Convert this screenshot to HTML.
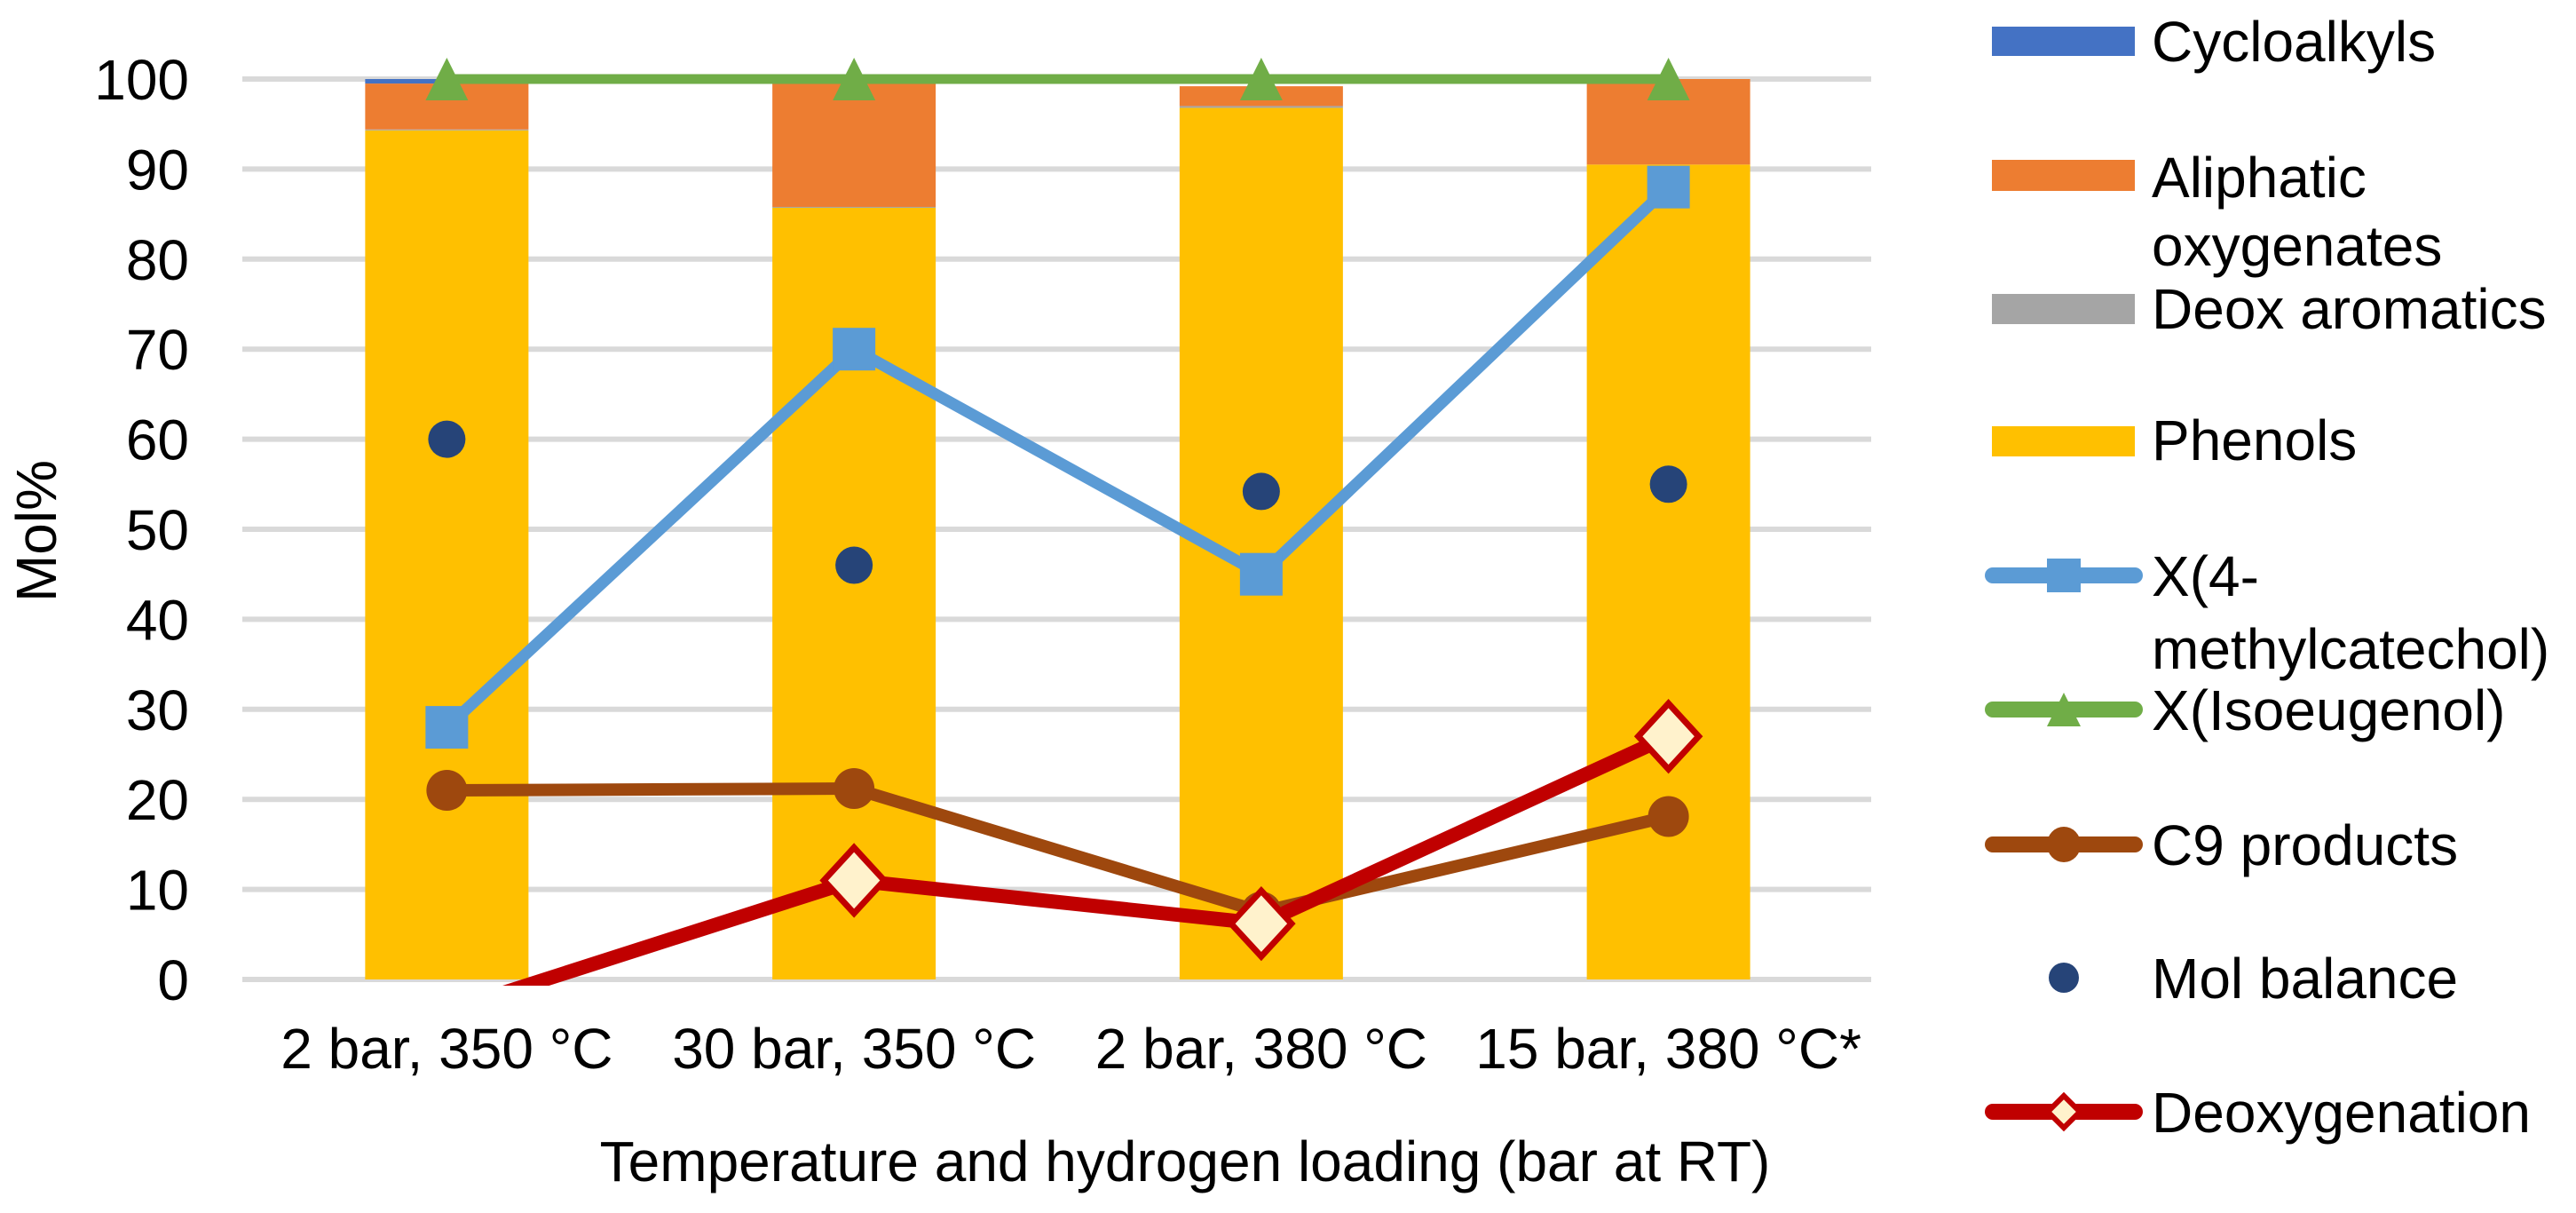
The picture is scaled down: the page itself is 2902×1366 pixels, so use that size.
<!DOCTYPE html>
<html><head><meta charset="utf-8"><style>
html,body{margin:0;padding:0;background:#fff;}
svg{display:block;font-family:"Liberation Sans",Arial,sans-serif;}
</style></head><body>
<svg id="chart" width="2902" height="1366" viewBox="0 0 2902 1366">
<defs><clipPath id="plotclip"><rect x="273" y="0" width="1835" height="1110"/></clipPath></defs>
<g id="grid"></g>
<g id="yticks"></g>
<g id="bars"></g>
<g id="lines" clip-path="url(#plotclip)"></g>
<g id="xticks"></g>
<text x="41" y="598" font-size="64" text-anchor="middle" dominant-baseline="central" transform="rotate(-90 41 598)">Mol%</text>
<text x="1335" y="1330" font-size="64" text-anchor="middle">Temperature and hydrogen loading (bar at RT)</text>
<g id="legend">
<rect x="2244" y="30" width="161" height="33" fill="#4472C4"/>
<text x="2424" y="69" font-size="64">Cycloalkyls</text>
<rect x="2244" y="180" width="161" height="35" fill="#ED7D31"/>
<text x="2424" y="222" font-size="64">Aliphatic</text>
<text x="2424" y="299" font-size="64">oxygenates</text>
<rect x="2244" y="331" width="161" height="34" fill="#A5A5A5"/>
<text x="2424" y="370" font-size="64">Deox aromatics</text>
<rect x="2244" y="480" width="161" height="34" fill="#FFC000"/>
<text x="2424" y="518" font-size="64">Phenols</text>
<line x1="2245" y1="648" x2="2405" y2="648" stroke="#5B9BD5" stroke-width="18" stroke-linecap="round"/>
<rect x="2306" y="629" width="38" height="38" fill="#5B9BD5"/>
<text x="2424" y="671" font-size="64">X(4-</text>
<text x="2424" y="753" font-size="64">methylcatechol)</text>
<line x1="2245" y1="799" x2="2405" y2="799" stroke="#70AD47" stroke-width="18" stroke-linecap="round"/>
<polygon points="2325,780 2344,818 2306,818" fill="#70AD47"/>
<text x="2424" y="822" font-size="64">X(Isoeugenol)</text>
<line x1="2245" y1="951" x2="2405" y2="951" stroke="#9E480E" stroke-width="18" stroke-linecap="round"/>
<ellipse cx="2325" cy="951" rx="19" ry="20" fill="#9E480E"/>
<text x="2424" y="974" font-size="64">C9 products</text>
<ellipse cx="2325" cy="1101" rx="17" ry="17" fill="#264478"/>
<text x="2424" y="1124" font-size="64">Mol balance</text>
<line x1="2245" y1="1252" x2="2405" y2="1252" stroke="#C00000" stroke-width="18" stroke-linecap="round"/>
<polygon points="2325,1234 2343,1252 2325,1270 2307,1252" fill="#FFF2CC" stroke="#C00000" stroke-width="6"/>
<text x="2424" y="1275" font-size="64">Deoxygenation</text>
</g>
</svg>
<script>
const categories = ["2 bar, 350 °C", "30 bar, 350 °C", "2 bar, 380 °C", "15 bar, 380 °C*"];
const phenols = [94.3, 85.7, 96.8, 90.5];
const deoxAromatics = [0.1, 0.1, 0.2, 0.0];
const aliphatic = [5.1, 13.7, 2.2, 9.5];
const cycloalkyls = [0.5, 0.0, 0.0, 0.0];
const x4mc = [28, 70, 45, 88];
const xIso = [100, 100, 100, 100];
const c9 = [21, 21.2, 7.5, 18.1];
const molBalance = [60, 46, 54.2, 55];
const deoxygenation = [-3.5, 11, 6.2, 27];
const yTicks = [0, 10, 20, 30, 40, 50, 60, 70, 80, 90, 100];

const NS = "http://www.w3.org/2000/svg";
const X0 = 273, X1 = 2108, Y0 = 1103, YPER = 10.14;
const band = (X1 - X0) / categories.length;
function xPos(i){ return X0 + band * (i + 0.5) + 1; }
function yPos(v){ return Y0 - v * YPER; }
function mk(tag, attrs, parent){ const e = document.createElementNS(NS, tag); for (const k in attrs) e.setAttribute(k, attrs[k]); parent.appendChild(e); return e; }

const grid = document.getElementById('grid'), yt = document.getElementById('yticks');
yTicks.forEach(t => {
  const l = mk('line', {x1:X0, x2:X1, y1:yPos(t), y2:yPos(t), stroke:'#D9D9D9', 'stroke-width':6}, grid);
  
  
  const tx = mk('text', {x:213, y:yPos(t)+23, 'font-size':64, 'text-anchor':'end'}, yt);
  tx.textContent = t;
  
  
});

const bars = document.getElementById('bars');
const stacks = [[phenols,'#FFC000','bar-phenols'],[deoxAromatics,'#A5A5A5','bar-deox-aromatics'],[aliphatic,'#ED7D31','bar-aliphatic'],[cycloalkyls,'#4472C4','bar-cycloalkyls']];
const BW = 184;
categories.forEach((c, i) => {
  let base = 0;
  stacks.forEach(([arr, col, nm]) => {
    const v = arr[i];
    if (v > 0) {
      const r = mk('rect', {x:xPos(i)-BW/2, y:yPos(base+v), width:BW, height:v*YPER, fill:col}, bars);
      
      
    }
    base += v;
  });
});

const lines = document.getElementById('lines');
function series(arr, col, w, nm){
  const pts = arr.map((v,i)=>xPos(i)+','+yPos(v)).join(' ');
  const p = mk('polyline', {points:pts, fill:'none', stroke:col, 'stroke-width':w, 'stroke-linejoin':'round'}, lines);
  
  
}
series(x4mc, '#5B9BD5', 13, 'line-4-methylcatechol');
series(xIso, '#70AD47', 11, 'line-isoeugenol');
series(c9, '#9E480E', 14, 'line-c9-products');
series(deoxygenation, '#C00000', 16, 'line-deoxygenation');

x4mc.forEach((v,i)=>{
  const m = mk('rect', {x:xPos(i)-24, y:yPos(v)-24, width:48, height:48, fill:'#5B9BD5'}, lines);
  
  
});
xIso.forEach((v,i)=>{
  const x = xPos(i), y = yPos(v);
  const m = mk('polygon', {points:`${x},${y-24} ${x+24},${y+24} ${x-24},${y+24}`, fill:'#70AD47'}, lines);
  
  
});
c9.forEach((v,i)=>{
  const m = mk('ellipse', {cx:xPos(i), cy:yPos(v), rx:23, ry:23, fill:'#9E480E'}, lines);
  
  
});
molBalance.forEach((v,i)=>{
  const m = mk('ellipse', {cx:xPos(i), cy:yPos(v), rx:21, ry:21, fill:'#264478'}, lines);
  
  
});
deoxygenation.forEach((v,i)=>{
  if (v < 0) return;
  const x = xPos(i), y = yPos(v);
  const m = mk('polygon', {points:`${x},${y-37} ${x+34},${y} ${x},${y+37} ${x-34},${y}`, fill:'#FFF2CC', stroke:'#C00000', 'stroke-width':7}, lines);
  
  
});

const xt = document.getElementById('xticks');
categories.forEach((c,i)=>{
  const t = mk('text', {x:xPos(i), y:1203, 'font-size':64, 'text-anchor':'middle'}, xt);
  t.textContent = c;
  
  
});
</script>
</body></html>
